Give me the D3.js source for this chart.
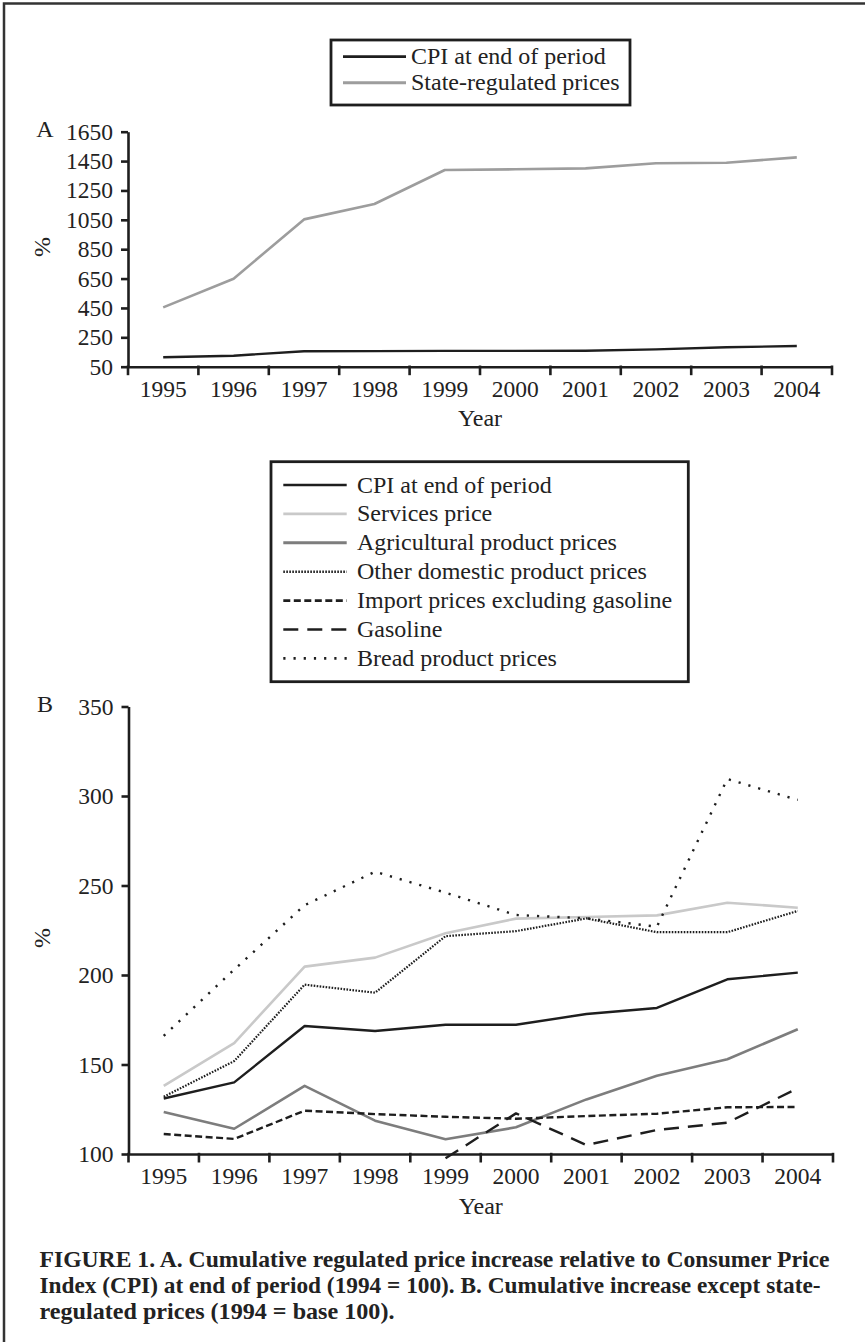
<!DOCTYPE html>
<html>
<head>
<meta charset="utf-8">
<script src="https://cdn.jsdelivr.net/npm/d3@7"></script>
<style>
  html, body { margin: 0; padding: 0; background: #fff; }
  svg { display: block; }
  text { font-family: "Liberation Serif", "Times New Roman", serif; fill: #222; }
</style>
</head>
<body>
<svg id="chart" width="865" height="1342"></svg>
<script>
// ---------- DATA ----------
const years = ["1995","1996","1997","1998","1999","2000","2001","2002","2003","2004"];

// Panel A
const ticksA = [50, 250, 450, 650, 850, 1050, 1250, 1450, 1650];
const cpiA = [114, 125, 155, 156, 158, 158, 159, 168, 182, 191];
const stateRegulated = [454, 649, 1053, 1158, 1389, 1394, 1400, 1435, 1439, 1475];
const legendA = ["CPI at end of period", "State-regulated prices"];

// Panel B
const ticksB = [100, 150, 200, 250, 300, 350];
const cpiB = [131, 140, 171.5, 168.7, 172.2, 172.2, 178.2, 181.6, 197.6, 201.3];
const services = [138, 162, 204.7, 209.7, 223.3, 231.5, 232.4, 233.3, 240.4, 237.6];
const agricultural = [123.5, 114.1, 138.1, 118.6, 108.2, 114.9, 130.5, 143.7, 152.9, 169.7];
const otherDomestic = [132, 151.9, 194.6, 190.1, 221.7, 224.5, 231.6, 223.9, 223.9, 235.8];
const importExGas = [111.2, 108.4, 124.2, 122.3, 120.8, 119.7, 121.2, 122.5, 126.1, 126.3];
const gasoline = [null, null, null, null, 97.6, 122.7, 105, 113.4, 117.5, 136.7];
const bread = [166, 203, 239, 257.7, 246, 233.5, 231.7, 227, 309.5, 297.8];
const legendB = ["CPI at end of period", "Services price", "Agricultural product prices",
  "Other domestic product prices", "Import prices excluding gasoline", "Gasoline", "Bread product prices"];

const captionLines = [
  "FIGURE 1. A. Cumulative regulated price increase relative to Consumer Price",
  "Index (CPI) at end of period (1994 = 100). B. Cumulative increase except state-",
  "regulated prices (1994 = base 100)."
];

// ---------- STYLES ----------
const INK = "#1e1e1e";
const stylesA = [
  { color: INK, width: 2.4, dash: null },
  { color: "#9d9d9d", width: 2.6, dash: null }
];
const stylesB = [
  { color: INK, width: 2.4, dash: null, cap: "butt" },
  { color: "#c9c9c9", width: 2.6, dash: null, cap: "butt" },
  { color: "#7d7d7d", width: 2.6, dash: null, cap: "butt" },
  { color: INK, width: 2.2, dash: "1.6,1.4", cap: "butt" },
  { color: INK, width: 2.4, dash: "7,3.5", cap: "butt" },
  { color: INK, width: 2.4, dash: "15,9", cap: "butt" },
  { color: INK, width: 2.4, dash: "2.2,8", cap: "butt" }
];

const svg = d3.select("#chart");

// outer frame (right/bottom fall outside the picture)
svg.append("rect").attr("x", 4).attr("y", 3.5).attr("width", 900).attr("height", 1400)
  .attr("fill", "none").attr("stroke", "#333").attr("stroke-width", 2.5);

function panel(cfg) {
  const x = d3.scaleBand().domain(years).range(cfg.xRange).padding(0);
  const y = d3.scaleLinear().domain(cfg.yDomain).range(cfg.yRange);
  const g = svg.append("g");
  const bw = x.bandwidth();

  // Y axis
  const ya = g.append("g").attr("transform", `translate(${cfg.xRange[0]},0)`)
    .call(d3.axisLeft(y).tickValues(cfg.ticks).tickSize(7).tickSizeOuter(0).tickPadding(8).tickFormat(d3.format("d")));
  ya.attr("font-family", null).attr("font-size", null);
  ya.selectAll("path,line").attr("stroke", INK).attr("stroke-width", 2.6);
  ya.selectAll("text").attr("font-size", 23.5).attr("fill", "#222");

  // X axis
  const y0 = cfg.yRange[0];
  const xa = g.append("g").attr("transform", `translate(0,${y0})`)
    .call(d3.axisBottom(x).tickSize(0).tickSizeOuter(0).tickPadding(13.3));
  xa.attr("font-family", null).attr("font-size", null);
  xa.select(".domain").attr("stroke", INK).attr("stroke-width", 2.6);
  xa.selectAll("text").attr("font-size", 23.5).attr("fill", "#222");
  const bounds = years.map(d => x(d)).concat([x.range()[1]]);
  xa.selectAll("line.bt").data(bounds).join("line").attr("class", "bt")
    .attr("x1", d => d).attr("x2", d => d).attr("y1", -1.2).attr("y2", 8.5)
    .attr("stroke", INK).attr("stroke-width", 2.6);

  // Axis titles
  g.append("text").attr("x", (cfg.xRange[0] + cfg.xRange[1]) / 2).attr("y", y0 + 59.5)
    .attr("text-anchor", "middle").attr("font-size", 24).text("Year");
  g.append("text").attr("transform", `translate(${cfg.pctX},${cfg.pctY}) rotate(-90)`)
    .attr("text-anchor", "middle").attr("font-size", 24).text("%");
  g.append("text").attr("x", 45).attr("y", cfg.yRange[1] + 5.5)
    .attr("text-anchor", "middle").attr("font-size", 24).text(cfg.letter);

  // Lines
  const line = d3.line().defined(d => d != null)
    .x((d, i) => x(years[i]) + bw / 2).y(d => y(d));
  cfg.series.forEach((s, k) => {
    const st = cfg.styles[k];
    g.append("path").datum(s).attr("d", line).attr("fill", "none")
      .attr("stroke", st.color).attr("stroke-width", st.width)
      .attr("stroke-dasharray", st.dash).attr("stroke-linejoin", "round")
      .attr("stroke-linecap", st.cap || "butt");
  });

  // Legend
  const L = cfg.legend;
  const lg = svg.append("g");
  lg.append("rect").attr("x", L.x0).attr("y", L.y0).attr("width", L.x1 - L.x0).attr("height", L.y1 - L.y0)
    .attr("fill", "#fff").attr("stroke", INK).attr("stroke-width", 2.8);
  cfg.labels.forEach((lab, i) => {
    const ry = L.row0 + i * L.step;
    const st = cfg.styles[i];
    lg.append("line").attr("x1", L.lx0).attr("x2", L.lx1).attr("y1", ry).attr("y2", ry)
      .attr("stroke", st.color).attr("stroke-width", st.width + 0.3)
      .attr("stroke-dasharray", st.dash);
    lg.append("text").attr("x", L.tx).attr("y", ry + 7.5).attr("font-size", 24).text(lab);
  });
}

panel({
  letter: "A",
  xRange: [128, 832], yDomain: [50, 1650], yRange: [366.7, 131.7], ticks: ticksA,
  pctX: 50, pctY: 247,
  series: [cpiA, stateRegulated], styles: stylesA, labels: legendA,
  legend: { x0: 331, x1: 630, y0: 40, y1: 105, row0: 56.7, step: 26, lx0: 343, lx1: 406, tx: 411 }
});

panel({
  letter: "B",
  xRange: [128.5, 833], yDomain: [100, 350], yRange: [1154, 706.5], ticks: ticksB,
  pctX: 50, pctY: 938,
  series: [cpiB, services, agricultural, otherDomestic, importExGas, gasoline, bread],
  styles: stylesB, labels: legendB,
  legend: { x0: 271, x1: 688.3, y0: 461.7, y1: 681.7, row0: 485, step: 28.9, lx0: 283.3, lx1: 346.7, tx: 357 }
});

// Caption
const capWidths = [790, 781, 355];
const capY = [1266.7, 1293, 1318.5];
captionLines.forEach((t, i) => {
  svg.append("text").attr("x", 39.5).attr("y", capY[i]).attr("font-size", 23).attr("font-weight", "bold")
    .attr("textLength", capWidths[i]).attr("lengthAdjust", "spacingAndGlyphs").text(t);
});
</script>
</body>
</html>
